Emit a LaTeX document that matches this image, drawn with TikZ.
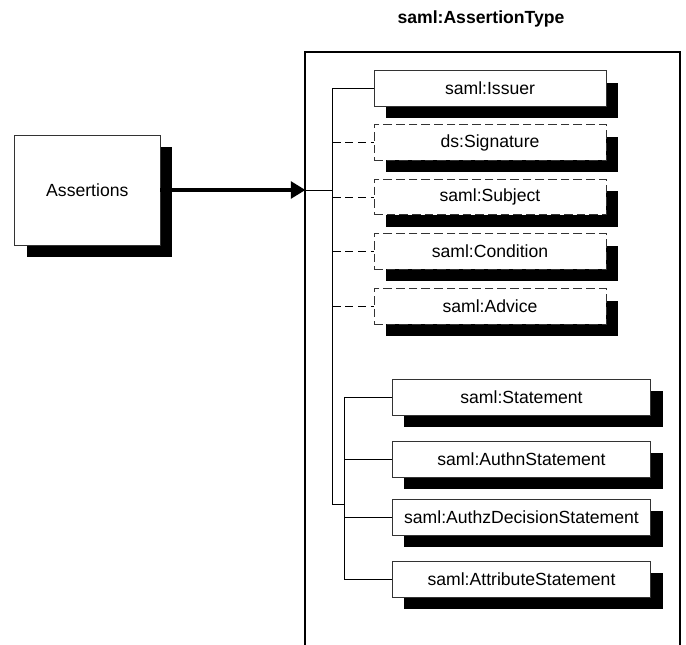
\documentclass[tikz,border=0pt]{standalone}
\usepackage{fontspec}
\setmainfont{Liberation Sans}
\usetikzlibrary{shadows,arrows.meta}
\begin{document}
\begin{tikzpicture}[x=0.75pt,y=-0.75pt,
  font=\fontsize{13.2pt}{16pt}\selectfont,
  boxshadow/.style={drop shadow={shadow xshift=9pt,shadow yshift=-9pt,fill=black,opacity=1}},
  elem/.style={draw=black!80,line width=0.6pt,fill=white,boxshadow,
    minimum width=174pt,minimum height=26.5pt,inner sep=0pt},
  optelem/.style={elem,dash pattern=on 6.5pt off 3pt},
  stmt/.style={elem,minimum width=194pt,minimum height=27pt},
  conn/.style={line width=0.6pt,draw=black},
  optconn/.style={conn,dash pattern=on 6pt off 3.5pt}]
\useasboundingbox (0,0) rectangle (686,645);
% container
\draw[line width=0.8pt] (305,645) -- (305,52) -- (680,52) -- (680,645);
\node[font=\fontsize{13.2pt}{16pt}\selectfont\bfseries] (title) at (481,19) {saml:AssertionType};
% source
\node[elem,minimum width=109pt,minimum height=82.5pt] (asr) at (87.3,190) {Assertions};
% sequence elements
\node[elem] (iss) at (490,88.5) {saml:Issuer};
\node[optelem] (sig) at (490,142.5) {ds:Signature};
\node[optelem] (sub) at (490,197) {saml:Subject};
\node[optelem] (cond) at (490,251.5) {saml:Condition};
\node[optelem] (adv) at (490,306.5) {saml:Advice};
% choice elements
\node[stmt] (st) at (521.5,397) {saml:Statement};
\node[stmt] (authn) at (521.5,459) {saml:AuthnStatement};
\node[stmt] (authz) at (521.5,517) {saml:AuthzDecisionStatement};
\node[stmt] (attr) at (521.5,579) {saml:AttributeStatement};
% trunk coordinates
\coordinate (tip) at (305.5,190);
\coordinate (t1top) at (332.7,88.5);
\coordinate (t1bot) at (332.7,504);
\coordinate (t2join) at (344.3,504);
\coordinate (t2top) at (344.3,397);
\coordinate (t2bot) at (344.3,579);
% main arrow
\draw[line width=2.7pt,-{Triangle[length=11pt,width=12.5pt]}] (asr.east) -- (tip);
\draw[conn] (tip) -- (t1top |- tip);
% trunk 1
\draw[conn] (t1top) -- (t1bot) -- (t2join);
\draw[conn] (t1top) -- (iss.west);
\draw[optconn] (t1top |- sig.west) -- (sig.west);
\draw[optconn] (t1top |- sub.west) -- (sub.west);
\draw[optconn] (t1top |- cond.west) -- (cond.west);
\draw[optconn] (t1top |- adv.west) -- (adv.west);
% trunk 2
\draw[conn] (t2top) -- (t2bot);
\draw[conn] (t2top) -- (st.west);
\draw[conn] (t2top |- authn.west) -- (authn.west);
\draw[conn] (t2top |- authz.west) -- (authz.west);
\draw[conn] (t2top |- attr.west) -- (attr.west);
\end{tikzpicture}
\end{document}
